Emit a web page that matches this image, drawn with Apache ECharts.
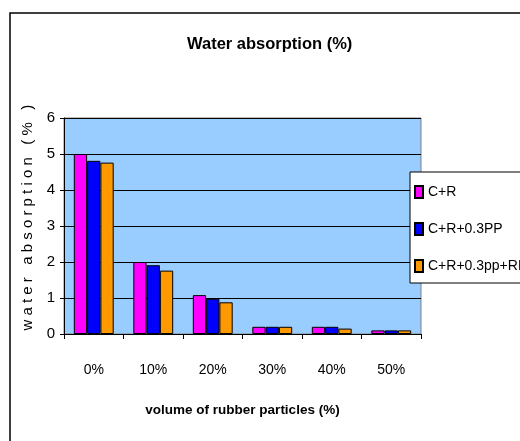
<!DOCTYPE html>
<html><head><meta charset="utf-8">
<script src="https://cdn.jsdelivr.net/npm/echarts@6/dist/echarts.min.js"></script>
<style>html,body{margin:0;padding:0;background:#fff;overflow:hidden}#c{width:545px;height:441px}</style>
</head><body><div id="c"></div>
<script>
const categories = ['0%', '10%', '20%', '30%', '40%', '50%'];
const seriesNames = ['C+R', 'C+R+0.3PP', 'C+R+0.3pp+RH'];
const cr = [5.0, 2.0, 1.08, 0.2, 0.2, 0.1];
const crPP = [4.81, 1.91, 0.98, 0.2, 0.2, 0.1];
const crPPRH = [4.76, 1.76, 0.88, 0.2, 0.15, 0.1];
const colors = ['#FF00FF', '#0000FF', '#FF9900'];

const FONT = '"Liberation Sans Narrow", "Arial Narrow", "Liberation Sans", Arial, sans-serif';
const chart = echarts.init(document.getElementById('c'));
const values = [cr, crPP, crPPRH];
chart.setOption({
  animation: false,
  textStyle: { fontFamily: FONT },
  title: {
    text: 'Water absorption (%)', left: 187, top: 36, padding: 0,
    textStyle: { fontFamily: FONT, fontSize: 16.5, fontWeight: 'bold', color: '#000' }
  },
  graphic: [{
    type: 'rect', z: -10, silent: true,
    shape: { x: 10, y: 13, width: 560, height: 450 },
    style: { fill: '#fff', stroke: '#000', lineWidth: 1.5 }
  }],
  legend: {
    orient: 'vertical', left: 410, top: 172,
    padding: [13, 12, 10, 4], itemGap: 23,
    itemWidth: 8, itemHeight: 12, icon: 'rect',
    backgroundColor: '#fff', borderColor: '#000', borderWidth: 1,
    textStyle: { fontFamily: FONT, fontSize: 14, color: '#000' },
    data: seriesNames
  },
  grid: {
    left: 64, top: 118, width: 357, height: 216, show: true,
    backgroundColor: '#99CCFF', borderColor: '#808080', borderWidth: 1
  },
  xAxis: {
    type: 'category', data: categories,
    axisLine: { lineStyle: { color: '#000', width: 1 } },
    axisTick: { show: true, length: 5, lineStyle: { color: '#000' } },
    axisLabel: { margin: 29, fontFamily: FONT, fontSize: 14, color: '#000' },
    name: 'volume of rubber particles (%)', nameLocation: 'middle', nameGap: 69,
    nameTextStyle: { fontFamily: FONT, fontSize: 13.5, fontWeight: 'bold', color: '#000' }
  },
  yAxis: {
    type: 'value', min: 0, max: 6, interval: 1,
    axisLine: { show: true, lineStyle: { color: '#000', width: 1 } },
    axisTick: { show: true, length: 4, lineStyle: { color: '#000' } },
    splitLine: { show: true, lineStyle: { color: '#000', width: 1 } },
    axisLabel: { margin: 9, fontFamily: FONT, fontSize: 15, color: '#000' },
    name: '    w a t e r   a b s o r p t i o n   ( %   )', nameLocation: 'middle', nameGap: 28,
    nameRotate: 90,
    nameTextStyle: { fontFamily: FONT, fontSize: 15, color: '#000' }
  },
  series: seriesNames.map((n, i) => ({
    name: n, type: 'bar', data: values[i],
    barGap: '0%', barCategoryGap: '33%',
    itemStyle: { color: colors[i], borderColor: '#000', borderWidth: 1 }
  }))
});
</script></body></html>
